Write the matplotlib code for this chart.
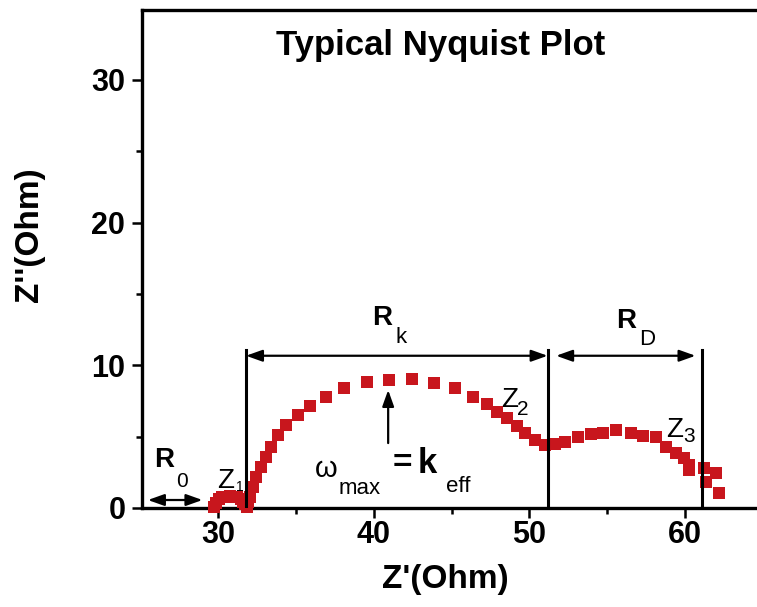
import matplotlib
matplotlib.use('Agg')
import matplotlib.pyplot as plt
from matplotlib.ticker import MultipleLocator

plt.rcParams['font.family'] = ['Liberation Sans', 'DejaVu Sans']

# impedance data (Z' , Z'')
z_re = [29.75, 29.9, 30.05, 30.25, 30.5, 30.75, 31.0, 31.25, 31.45, 31.6, 31.75,
        31.85, 31.95, 32.04, 32.26, 32.47, 32.79, 33.11, 33.43, 33.86, 34.35,
        35.13, 35.88, 36.94, 38.12, 39.6, 41.0, 42.48, 43.87, 45.25, 46.38,
        47.27, 47.91, 48.55, 49.19, 49.73, 50.36, 51.0, 51.64, 52.28, 53.13,
        53.98, 54.73, 55.58, 56.54, 57.28, 58.13, 58.77, 59.41, 59.95, 60.27,
        60.27, 61.23, 61.33, 61.97, 62.18]
z_im = [0.05, 0.35, 0.6, 0.75, 0.8, 0.82, 0.8, 0.75, 0.6, 0.45, 0.3,
        0.1, 0.45, 0.79, 1.49, 2.19, 2.9, 3.6, 4.3, 5.1, 5.8,
        6.5, 7.15, 7.8, 8.39, 8.85, 8.97, 9.02, 8.78, 8.39, 7.8,
        7.29, 6.75, 6.28, 5.75, 5.23, 4.77, 4.41, 4.48, 4.65, 4.95,
        5.19, 5.28, 5.47, 5.23, 5.05, 4.95, 4.3, 3.83, 3.48, 3.01,
        2.66, 2.78, 1.84, 2.43, 1.07]

# annotation geometry in data units
bounds = [31.8, 51.17, 61.1]
bound_top = 11.1
arrow_y = 10.67
r0_span = [25.5, 29.0]
r0_y = 0.56
rd_span = [51.72, 60.67]
wmax_x = 40.93
wmax_span = [4.55, 8.27]

fig = plt.figure(figsize=(7.57, 6.07), dpi=100)
ax = fig.add_axes([0.1876, 0.1631, 0.8124, 0.8204])

ax.plot(z_re, z_im, 's', color='#c8161d', markersize=8.3, markeredgewidth=0,
        clip_on=False, zorder=3)

ax.set_xlim(25.12, 64.62)
ax.set_ylim(0, 34.9)

ax.spines['right'].set_visible(False)
for s in ['left', 'bottom', 'top']:
    ax.spines[s].set_linewidth(2.4)

ax.xaxis.set_major_locator(MultipleLocator(10))
ax.xaxis.set_minor_locator(MultipleLocator(5))
ax.yaxis.set_major_locator(MultipleLocator(10))
ax.yaxis.set_minor_locator(MultipleLocator(5))
ax.tick_params(which='major', direction='out', length=7, width=1.8,
               labelsize=22, top=False, right=False)
ax.tick_params(which='minor', direction='out', length=4.5, width=1.8,
               top=False, right=False)
ax.tick_params(axis='y', pad=5)
ax.tick_params(axis='x', pad=2)
for lab in ax.get_xticklabels() + ax.get_yticklabels():
    lab.set_fontweight('bold')

ax.set_xlabel("Z'(Ohm)", fontsize=24, fontweight='bold')
ax.set_ylabel("Z''(Ohm)", fontsize=24, fontweight='bold')
ax.xaxis.set_label_coords(0.493, -0.112)
ax.yaxis.set_label_coords(-0.158, 0.548)

ax.text(44.3, 31.74, 'Typical Nyquist Plot', fontsize=25, fontweight='bold',
        ha='center', va='baseline')

# boundary lines
for b in bounds:
    ax.plot([b, b], [0, bound_top], color='black', lw=2.2, zorder=4)

def arrow(x0, y0, x1, y1, style):
    ax.annotate('', xy=(x1, y1), xytext=(x0, y0),
                arrowprops=dict(arrowstyle=style + ',head_length=0.7,head_width=0.25',
                                color='black', lw=1.6, shrinkA=0, shrinkB=0,
                                mutation_scale=14))

arrow(bounds[0], arrow_y, bounds[1], arrow_y, '<|-|>')
arrow(rd_span[0], arrow_y, rd_span[1], arrow_y, '<|-|>')
arrow(r0_span[0], r0_y, r0_span[1], r0_y, '<|-|>')
arrow(wmax_x, wmax_span[0], wmax_x, wmax_span[1], '-|>')

# labels
def lbl(x, y, s, size, weight='normal', va='baseline'):
    ax.text(x, y, s, fontsize=size, fontweight=weight, ha='center', va=va)

lbl(26.53, 2.87, 'R', 20, 'bold')
lbl(27.72, 1.47, '0', 15)
lbl(30.51, 1.40, 'Z', 20)
lbl(31.4, 1.19, '1', 10)
lbl(48.75, 7.08, 'Z', 20)
lbl(49.6, 6.52, '2', 15)
lbl(59.32, 4.98, 'Z', 20)
lbl(60.25, 4.63, '3', 15)
lbl(40.57, 12.82, 'R', 20, 'bold')
lbl(41.75, 11.56, 'k', 16)
lbl(56.2, 12.61, 'R', 20, 'bold')
lbl(57.55, 11.42, 'D', 16)
lbl(36.94, 2.17, '\u03c9', 21)
lbl(39.09, 0.98, 'max', 16)
lbl(41.85, 3.12, '=', 24, 'bold', va='center')
lbl(43.42, 2.45, 'k', 25, 'bold')
lbl(45.41, 1.12, 'eff', 16)

fig.savefig('out.png', dpi=100)
